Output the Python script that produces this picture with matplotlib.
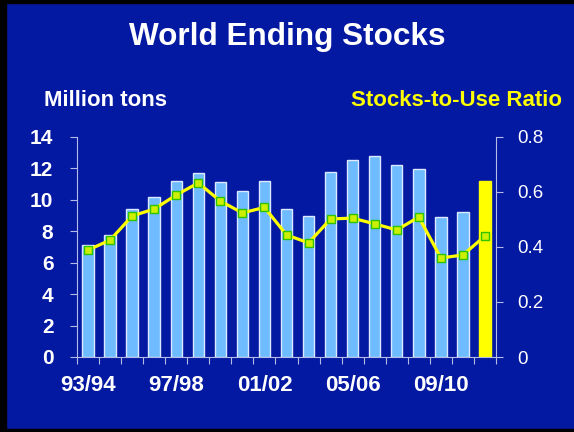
import matplotlib.pyplot as plt
from matplotlib.patches import Rectangle

# marketing years 93/94 .. 11/12
years = ['93/94', '94/95', '95/96', '96/97', '97/98', '98/99', '99/00', '00/01',
         '01/02', '02/03', '03/04', '04/05', '05/06', '06/07', '07/08', '08/09',
         '09/10', '10/11', '11/12']
stocks = [7.15, 7.76, 9.44, 10.2, 11.22, 11.73, 11.16, 10.54, 11.22, 9.44, 8.95,
          11.78, 12.56, 12.77, 12.22, 11.94, 8.89, 9.23, 11.2]
ratio = [0.389, 0.425, 0.513, 0.538, 0.589, 0.633, 0.567, 0.524, 0.544, 0.444,
         0.415, 0.502, 0.505, 0.484, 0.462, 0.509, 0.36, 0.371, 0.44]
label_years = ['93/94', '97/98', '01/02', '05/06', '09/10']

bg = '#0419A2'
spine_c = '#B4BCE6'
font = 'Liberation Sans'

fig = plt.figure(figsize=(5.74, 4.32), dpi=100, facecolor=bg)
# black frame on left / top / bottom like the slide
fig.add_artist(Rectangle((0, 0), 6 / 574, 1, transform=fig.transFigure, color='black'))
fig.add_artist(Rectangle((0, 1 - 3 / 432), 1, 3 / 432, transform=fig.transFigure, color='black'))
fig.add_artist(Rectangle((0, 0), 1, 3 / 432, transform=fig.transFigure, color='black'))

ax = fig.add_axes([77 / 574, (432 - 357) / 432, (496 - 77) / 574, (357 - 137) / 432])
ax.set_facecolor(bg)
x = list(range(len(years)))
colors = ['#6EBBFF'] * (len(years) - 1) + ['#FFFF00']
edges = ['#DDE9FF'] * (len(years) - 1) + ['#FFFF00']
ax.bar(x, stocks, width=0.52, color=colors, edgecolor=edges, linewidth=1)
ax.set_xlim(-0.5, len(years) - 0.5)
ax.set_ylim(0, 14)
ax.set_yticks(range(0, 15, 2))

ax2 = ax.twinx()
ax2.plot(x, ratio, color='#FFFF00', lw=2.3, marker='s', ms=5.5,
         markerfacecolor='#CCF000', markeredgecolor='#2EC400', markeredgewidth=1)
ax2.set_ylim(0, 0.8)
ax2.set_yticks([0, 0.2, 0.4, 0.6, 0.8])
ax2.set_yticklabels(['0', '0.2', '0.4', '0.6', '0.8'])

for a in (ax, ax2):
    for s in a.spines.values():
        s.set_visible(False)
ax.spines['left'].set_visible(True)
ax.spines['left'].set_color(spine_c)
ax.spines['bottom'].set_visible(True)
ax.spines['bottom'].set_color(spine_c)
ax2.spines['right'].set_visible(True)
ax2.spines['right'].set_color(spine_c)

# category boundaries as ticks, labels under the bars
ax.set_xticks([i - 0.5 for i in range(len(years) + 1)])
ax.set_xticklabels([])
ax.tick_params(axis='x', which='major', direction='out', length=5, color=spine_c)
ax.set_xticks([years.index(y) for y in label_years], minor=True)
ax.set_xticklabels(label_years, minor=True, fontsize=16, fontweight='bold',
                   color='white', family=font)
ax.tick_params(axis='x', which='minor', length=0, pad=13)

ax.tick_params(axis='y', direction='out', length=5, color=spine_c, labelcolor='white',
               pad=12)
for t in ax.get_yticklabels():
    t.set_fontsize(15)
    t.set_fontweight('bold')
    t.set_family(font)
ax2.tick_params(axis='y', direction='out', length=5, color=spine_c, labelcolor='white',
                pad=10)
for t in ax2.get_yticklabels():
    t.set_fontsize(13.5)
    t.set_family(font)

fig.text(0.5, 1 - 37 / 432, 'World Ending Stocks', ha='center', va='center',
         color='white', fontsize=22.7, fontweight='bold', family=font)
fig.text(44 / 574, 1 - 100 / 432, 'Million tons', ha='left', va='center',
         color='white', fontsize=16, fontweight='bold', family=font)
fig.text(562 / 574, 1 - 100 / 432, 'Stocks-to-Use Ratio', ha='right', va='center',
         color='#FFFF00', fontsize=16, fontweight='bold', family=font)

fig.savefig('out.png', dpi=100, facecolor=bg)
